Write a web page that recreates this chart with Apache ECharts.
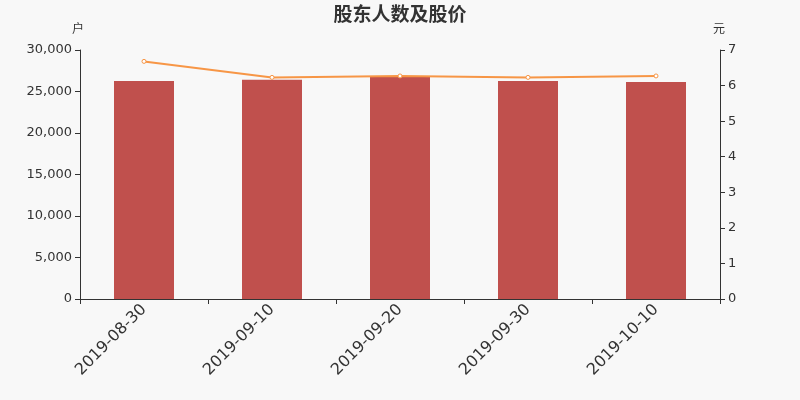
<!DOCTYPE html>
<html><head><meta charset="utf-8">
<script src="https://cdn.jsdelivr.net/npm/echarts@6/dist/echarts.min.js"></script>
<style>html,body{margin:0;padding:0;background:#f8f8f8;}#c{width:800px;height:400px;}</style>
</head><body><div id="c"></div>
<script>
const categories = ['2019-08-30','2019-09-10','2019-09-20','2019-09-30','2019-10-10'];
const holders = [26260, 26420, 26780, 26260, 26150];
const prices = [6.68, 6.23, 6.27, 6.23, 6.27];
const chart = echarts.init(document.getElementById('c'));
chart.setOption({
  backgroundColor: '#f8f8f8',
  animation: false,
  textStyle: { fontFamily: 'DejaVu Sans' },
  title: { text: '股东人数及股价', left: 'center', top: -1,
    textStyle: { fontSize: 19, fontWeight: 'bold', color: '#333', fontFamily: 'Noto Sans CJK SC' } },
  grid: { left: 80, right: 80, top: 50, bottom: 101 },
  xAxis: { type: 'category', data: categories,
    axisLine: { lineStyle: { color: '#333' } },
    axisTick: { show: true, alignWithLabel: false, lineStyle: { color: '#333' } },
    axisLabel: { rotate: 45, fontSize: 16, color: '#333', margin: 8, fontFamily: 'DejaVu Sans' } },
  yAxis: [
    { type: 'value', name: '户', min: 0, max: 30000, interval: 5000,
      nameGap: 16, nameTextStyle: { color: '#333', fontSize: 12, fontFamily: 'Noto Sans CJK SC', padding: [0, 4, 0, 0] },
      splitLine: { show: false },
      axisLine: { show: true, lineStyle: { color: '#333' } },
      axisTick: { show: true },
      axisLabel: { color: '#333', fontSize: 13, fontFamily: 'DejaVu Sans', formatter: v => v.toLocaleString('en-US') } },
    { type: 'value', name: '元', min: 0, max: 7, interval: 1,
      nameGap: 16, nameTextStyle: { color: '#333', fontSize: 12, fontFamily: 'Noto Sans CJK SC', padding: [0, 2, 0, 0] },
      splitLine: { show: false },
      axisLine: { show: true, lineStyle: { color: '#333' } },
      axisTick: { show: true },
      axisLabel: { color: '#333', fontSize: 13, fontFamily: 'DejaVu Sans' } }
  ],
  series: [
    { type: 'bar', data: holders, barWidth: 60, itemStyle: { color: '#c0504d' } },
    { type: 'line', yAxisIndex: 1, data: prices, symbol: 'circle', symbolSize: 4,
      itemStyle: { color: '#fff', borderColor: '#f79646', borderWidth: 1 },
      lineStyle: { color: '#f79646', width: 2 } }
  ]
});
</script></body></html>
